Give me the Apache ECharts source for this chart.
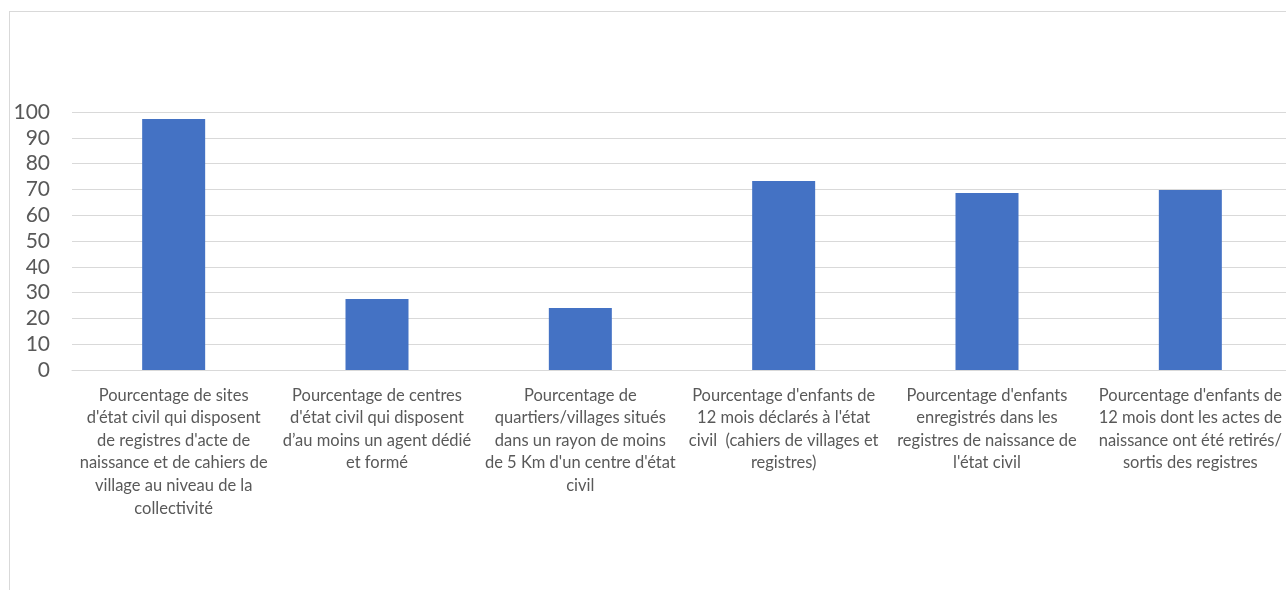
<!DOCTYPE html>
<html>
<head>
<meta charset="utf-8">
<script src="https://cdn.jsdelivr.net/npm/echarts@6/dist/echarts.min.js"></script>
<style>
  html, body { margin: 0; padding: 0; background: #ffffff; overflow: hidden; width: 1286px; height: 590px; }
  #frame { position: absolute; left: 9px; top: 11px; width: 1400px; height: 700px; border: 1px solid #d9d9d9; box-sizing: border-box; }
  #chart { position: absolute; left: 0; top: 0; width: 1310px; height: 590px; }
</style>
</head>
<body>
<div id="frame"></div>
<div id="chart"></div>
<script>
const categories = [
  "Pourcentage de sites\nd'état civil qui disposent\nde registres d'acte de\nnaissance et de cahiers de\nvillage au niveau de la\ncollectivité",
  "Pourcentage de centres\nd'état civil qui disposent\nd’au moins un agent dédié\net formé",
  "Pourcentage de\nquartiers/villages situés\ndans un rayon de moins\nde 5 Km d'un centre d'état\ncivil",
  "Pourcentage d'enfants de\n12 mois déclarés à l'état\ncivil  (cahiers de villages et\nregistres)",
  "Pourcentage d'enfants\nenregistrés dans les\nregistres de naissance de\nl'état civil",
  "Pourcentage d'enfants de\n12 mois dont les actes de\nnaissance ont été retirés/\nsortis des registres"
];
const values = [97.3, 27.5, 24.0, 73.3, 68.6, 69.8];
const yMin = 0, yMax = 100, yInterval = 10;

const chart = echarts.init(document.getElementById('chart'), null, { renderer: 'canvas' });
chart.setOption({
  animation: false,
  backgroundColor: 'transparent',
  grid: { left: 72, top: 112, bottom: 220, width: 1220, containLabel: false },
  xAxis: {
    type: 'category',
    data: categories,
    axisLine: { show: true, lineStyle: { color: '#d9d9d9', width: 1 } },
    axisTick: { show: false },
    axisLabel: {
      interval: 0,
      margin: 14,
      color: '#595959',
      fontFamily: 'Lato',
      fontSize: 16.5,
      lineHeight: 22.6,
      align: 'center'
    }
  },
  yAxis: {
    type: 'value',
    min: yMin, max: yMax, interval: yInterval,
    axisLine: { show: false },
    axisTick: { show: false },
    splitLine: { lineStyle: { color: '#d9d9d9', width: 1 } },
    axisLabel: { color: '#595959', fontFamily: 'Lato', fontSize: 21, margin: 22 }
  },
  series: [{
    type: 'bar',
    data: values,
    barWidth: 63,
    itemStyle: { color: '#4472C4' }
  }]
});
</script>
</body>
</html>
